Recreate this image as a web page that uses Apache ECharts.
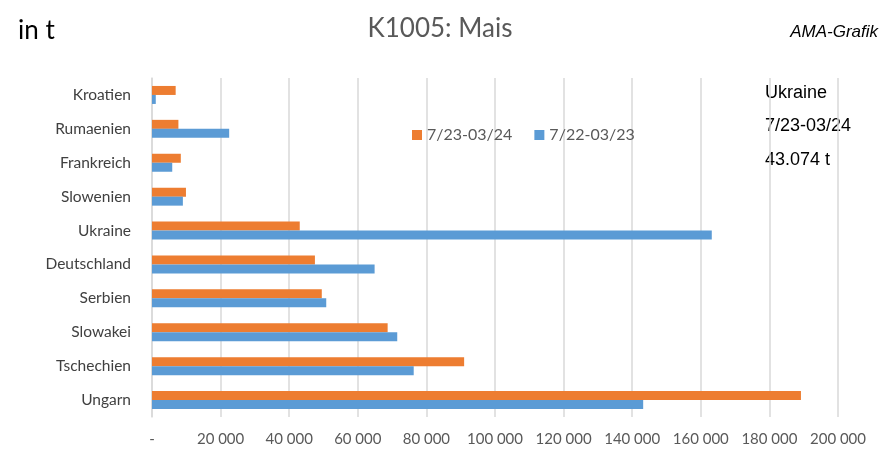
<!DOCTYPE html>
<html><head><meta charset="utf-8">
<script src="https://cdn.jsdelivr.net/npm/echarts@6/dist/echarts.min.js"></script>
<style>html,body{margin:0;padding:0;background:#fff}#c{width:893px;height:449px}</style>
</head><body><div id="c"></div>
<script>
const categories = ["Ungarn","Tschechien","Slowakei","Serbien","Deutschland","Ukraine","Slowenien","Frankreich","Rumaenien","Kroatien"];
const seriesNames = ["7/23-03/24","7/22-03/23"];
const values2324 = [189200, 91000, 68700, 49500, 47500, 43074, 9900, 8400, 7700, 6900];
const values2223 = [143200, 76300, 71500, 50800, 64900, 163200, 9000, 5900, 22500, 1100];
const xTicks = [0,20000,40000,60000,80000,100000,120000,140000,160000,180000,200000];
const noteLines = ["Ukraine","7/23-03/24","43.074 t"];

const chart = echarts.init(document.getElementById('c'), null, {renderer:'canvas'});
function fmt(v){ if(v===0) return '-'; return String(v).replace(/\B(?=(\d{3})+(?!\d))/g,' '); }
chart.setOption({
  animation:false,
  backgroundColor:'#fff',
  textStyle:{fontFamily:'Lato'},
  title:[
    {text:'K1005: Mais',left:440,top:16,padding:0,textAlign:'center',textStyle:{fontFamily:'Lato',fontSize:26,fontWeight:'normal',color:'#595959'}},
    {text:'in t',left:18,top:18,padding:0,textStyle:{fontFamily:'Lato',fontSize:26,fontWeight:'normal',color:'#000'}},
    {text:'AMA-Grafik',right:15,top:24,padding:0,textStyle:{fontFamily:'Liberation Sans',fontSize:17,fontStyle:'italic',fontWeight:'normal',color:'#000'}}
  ],
  graphic: noteLines.map((t,i)=>({type:'text',left:765,top:84+i*33.5,style:{text:t,font:'18px "Liberation Sans"',fill:'#000'}})),
  legend:{left:407,top:122,itemWidth:10,itemHeight:10,itemGap:22,icon:'rect',
    textStyle:{fontFamily:'Lato',fontSize:16,color:'#595959'},data:seriesNames},
  grid:{left:152,right:55,top:78,bottom:32,containLabel:false},
  xAxis:{type:'value',min:0,max:200000,interval:20000,
    axisLine:{show:false},axisTick:{show:false},
    splitLine:{show:true,lineStyle:{color:'#d9d9d9',width:1.5}},
    axisLabel:{formatter:fmt,color:'#595959',fontSize:15,fontFamily:'Lato',margin:15}},
  yAxis:{type:'category',data:categories,
    axisLine:{show:true,lineStyle:{color:'#d9d9d9',width:1.5}},axisTick:{show:false},
    axisLabel:{color:'#404040',fontSize:15.5,fontFamily:'Lato',margin:21}},
  series:[
    {name:seriesNames[0],type:'bar',data:values2324,itemStyle:{color:'#ED7D31'},barWidth:9,barGap:'0%',z:2},
    {name:seriesNames[1],type:'bar',data:values2223,itemStyle:{color:'#5B9BD5'},barWidth:9,barGap:'0%',z:2}
  ]
});
</script></body></html>
